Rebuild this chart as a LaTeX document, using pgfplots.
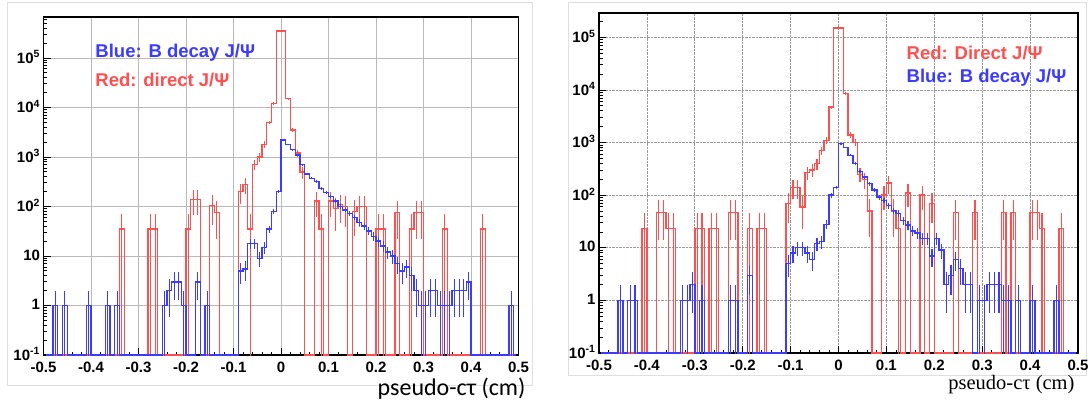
\documentclass[border=0pt]{standalone}
\usepackage{pgfplots}
\pgfplotsset{compat=1.18}
\usepackage{pgfplotstable}
\usepackage{fontspec}
\setmainfont{Liberation Sans}
\newfontfamily\carlito{Carlito}
\newfontfamily\lserif{Liberation Serif}
\definecolor{hred}{RGB}{255,80,80}
\definecolor{hblue}{RGB}{60,60,255}

\pgfplotstableread{
x y
-0.495 0.1
-0.345 0.1
-0.335 35
-0.325 0.1
-0.285 0.1
-0.275 35
-0.265 35
-0.255 0.1
-0.205 0.1
-0.195 35
-0.185 140
-0.175 140
-0.165 0.1
-0.155 0.1
-0.145 105
-0.135 75
-0.125 0.1
-0.095 0.1
-0.085 200
-0.075 280
-0.065 35
-0.055 700
-0.045 1000
-0.035 1800
-0.025 5000
-0.015 12000
-0.005 350000
0.005 350000
0.015 15000
0.025 3500
0.035 1200
0.045 500
0.055 0.1
0.065 0.1
0.075 130
0.085 35
0.095 0.1
0.105 130
0.115 90
0.125 110
0.135 100
0.145 0.1
0.155 80
0.165 100
0.175 100
0.185 0.1
0.195 0.1
0.205 35
0.215 35
0.225 0.1
0.235 0.1
0.245 75
0.255 0.1
0.265 0.1
0.275 35
0.285 75
0.295 75
0.305 0.1
0.335 0.1
0.345 35
0.355 0.1
0.415 0.1
0.425 35
0.435 0.1
0.495 0.1
}\redL

\pgfplotstableread{
x y
-0.495 0.1
-0.485 0.1
-0.475 1
-0.465 0.1
-0.455 1
-0.445 0.1
-0.415 0.1
-0.405 1
-0.395 0.1
-0.375 0.1
-0.365 1
-0.355 0.1
-0.345 1
-0.335 0.1
-0.255 0.1
-0.245 1
-0.235 2
-0.225 3
-0.215 3
-0.205 1
-0.195 0.1
-0.185 0.1
-0.175 3
-0.165 0.1
-0.155 1
-0.145 0.1
-0.095 0.1
-0.085 5
-0.075 5.5
-0.065 18
-0.055 18
-0.045 9
-0.035 15
-0.025 35
-0.015 80
-0.005 200
0.005 2200
0.015 1800
0.025 1400
0.035 1100
0.045 700
0.055 450
0.065 370
0.075 320
0.085 230
0.095 190
0.105 160
0.115 130
0.125 100
0.135 85
0.145 72
0.155 60
0.165 48
0.175 40
0.185 32
0.195 25
0.205 20
0.215 16
0.225 12
0.235 10
0.245 7
0.255 5
0.265 6
0.275 4
0.285 2
0.295 1
0.305 1
0.315 2
0.325 2
0.335 1
0.345 1
0.355 1
0.365 2
0.375 2
0.385 2
0.395 3
0.405 0.1
0.475 0.1
0.485 1
0.495 0.1
}\blueL

\pgfplotstableread{
x y
-0.495 0.1
-0.415 0.1
-0.405 23
-0.395 0.1
-0.385 0.1
-0.375 47
-0.365 47
-0.355 23
-0.345 23
-0.335 0.1
-0.305 0.1
-0.295 23
-0.285 23
-0.275 0.1
-0.265 23
-0.255 23
-0.245 0.1
-0.235 0.1
-0.225 47
-0.215 47
-0.205 0.1
-0.195 0.1
-0.185 23
-0.175 0.1
-0.165 23
-0.155 23
-0.145 0.1
-0.115 0.1
-0.105 70
-0.095 140
-0.085 140
-0.075 60
-0.065 270
-0.055 300
-0.045 400
-0.035 700
-0.025 1100
-0.015 4700
-0.005 150000
0.005 150000
0.015 8500
0.025 1400
0.035 1000
0.045 250
0.055 200
0.065 50
0.075 0.1
0.085 0.1
0.095 100
0.105 170
0.115 50
0.125 23
0.135 0.1
0.145 110
0.155 0.1
0.165 0.1
0.175 100
0.185 0.1
0.195 70
0.205 0.1
0.235 0.1
0.245 47
0.255 0.1
0.275 0.1
0.285 47
0.295 0.1
0.335 0.1
0.345 47
0.355 0.1
0.365 47
0.375 0.1
0.395 0.1
0.405 47
0.415 47
0.425 23
0.435 0.1
0.455 0.1
0.465 23
0.475 0.1
0.495 0.1
}\redR

\pgfplotstableread{
x y
-0.495 0.1
-0.465 0.1
-0.455 1
-0.445 0.1
-0.435 1
-0.425 1
-0.415 0.1
-0.335 0.1
-0.325 1
-0.315 1
-0.305 2
-0.295 0.1
-0.285 1
-0.275 0.1
-0.235 0.1
-0.225 1
-0.215 1
-0.205 0.1
-0.195 0.1
-0.185 3
-0.175 0.1
-0.115 0.1
-0.105 5
-0.095 8
-0.085 10
-0.075 10
-0.065 8
-0.055 6
-0.045 12
-0.035 13
-0.025 28
-0.015 100
-0.005 140
0.005 950
0.015 810
0.025 570
0.035 400
0.045 280
0.055 220
0.065 165
0.075 125
0.085 92
0.095 80
0.105 63
0.115 51
0.125 45
0.135 33
0.145 27
0.155 21
0.165 19
0.175 15
0.185 15
0.195 7
0.205 15
0.215 9
0.225 2
0.235 3
0.245 6
0.255 4
0.265 2
0.275 2
0.285 0.1
0.295 1
0.305 1
0.315 2
0.325 2
0.335 2
0.345 1
0.355 1
0.365 0.1
0.375 1
0.385 0.1
0.395 0.1
0.405 1
0.415 0.1
0.445 0.1
0.455 1
0.465 0.1
0.495 0.1
}\blueR

\begin{document}
\begin{tikzpicture}
\useasboundingbox (0pt,0pt) rectangle (1089pt,400pt);
\fill[white] (0pt,0pt) rectangle (1089pt,400pt);
\draw[gray!25, line width=0.8pt] (7pt,15pt) rectangle (532pt,398pt);
\draw[gray!25, line width=0.8pt] (568pt,25pt) rectangle (1086pt,398pt);

% ---------------- left panel ----------------
\begin{axis}[
  scale only axis,
  at={(43.5pt,45pt)}, anchor=south west,
  width=475pt, height=338pt,
  ymode=log, ymin=0.1, ymax=670000,
  xmin=-0.5, xmax=0.5,
  xtick={-0.5,-0.4,-0.3,-0.2,-0.1,0,0.1,0.2,0.3,0.4,0.5},
  xticklabels={-0.5,-0.4,-0.3,-0.2,-0.1,0,0.1,0.2,0.3,0.4,0.5},
  ytick={0.1,1,10,100,1000,10000,100000},
  yticklabels={10\textsuperscript{-1},1,10,10\textsuperscript{2},10\textsuperscript{3},10\textsuperscript{4},10\textsuperscript{5}},
  minor xtick={-0.48,-0.46,...,0.48},
  minor ytick={0.2,0.3,0.4,0.5,0.6,0.7,0.8,0.9,2,3,4,5,6,7,8,9,20,30,40,50,60,70,80,90,200,300,400,500,600,700,800,900,2000,3000,4000,5000,6000,7000,8000,9000,20000,30000,40000,50000,60000,70000,80000,90000,200000,300000,400000,500000,600000},
  tick align=inside,
  xtick pos=left, ytick pos=left,
  major tick length=7pt, minor tick length=3.5pt,
  tick style={black, line width=0.8pt},
  axis line style={black, line width=1.1pt},
  xmajorgrids, ymajorgrids,
  major grid style={gray!55, line width=0.6pt},
  tick label style={font=\fontsize{15}{17}\selectfont\bfseries},
  xticklabel style={yshift=-3pt},
  yticklabel style={yshift=1pt},
]
\addplot[const plot mark mid, no marks, line width=1.4pt, hred,
  error bars/.cd, y dir=both, y explicit, error mark=none,
  error bar style={line width=1.2pt}]
  table[x=x, y=y,
    y error plus expr={ifthenelse(\thisrow{y}>0.5, sqrt(37)*sqrt(\thisrow{y}), 0)},
    y error minus expr={ifthenelse(\thisrow{y}>0.5, min(sqrt(37)*sqrt(\thisrow{y}), \thisrow{y}-0.01), 0)}] {\redL};
\addplot[const plot mark mid, no marks, line width=1.4pt, hblue,
  error bars/.cd, y dir=both, y explicit, error mark=none,
  error bar style={line width=1.2pt}]
  table[x=x, y=y,
    y error plus expr={ifthenelse(\thisrow{y}>0.5, sqrt(\thisrow{y}), 0)},
    y error minus expr={ifthenelse(\thisrow{y}>0.5, min(sqrt(\thisrow{y}), \thisrow{y}-0.01), 0)}] {\blueL};
\node[anchor=west, text=hblue, font=\bfseries\fontsize{18.5}{21}\selectfont] at (rel axis cs:0.102,0.893) {Blue: B decay J/Ψ};
\node[anchor=west, text=hred, font=\bfseries\fontsize{18.5}{21}\selectfont] at (rel axis cs:0.102,0.814) {Red: direct J/Ψ};
\end{axis}
\node[anchor=east, font=\carlito\fontsize{24}{26}\selectfont] at (529pt,11pt) {pseudo-cτ (cm)};

% ---------------- right panel ----------------
\begin{axis}[
  scale only axis,
  at={(599pt,47pt)}, anchor=south west,
  width=479pt, height=340pt,
  ymode=log, ymin=0.1, ymax=290000,
  xmin=-0.5, xmax=0.5,
  xtick={-0.5,-0.4,-0.3,-0.2,-0.1,0,0.1,0.2,0.3,0.4,0.5},
  xticklabels={-0.5,-0.4,-0.3,-0.2,-0.1,0,0.1,0.2,0.3,0.4,0.5},
  ytick={0.1,1,10,100,1000,10000,100000},
  yticklabels={10\textsuperscript{-1},1,10,10\textsuperscript{2},10\textsuperscript{3},10\textsuperscript{4},10\textsuperscript{5}},
  minor xtick={-0.48,-0.46,...,0.48},
  minor ytick={0.2,0.3,0.4,0.5,0.6,0.7,0.8,0.9,2,3,4,5,6,7,8,9,20,30,40,50,60,70,80,90,200,300,400,500,600,700,800,900,2000,3000,4000,5000,6000,7000,8000,9000,20000,30000,40000,50000,60000,70000,80000,90000,200000},
  tick align=inside,
  xtick pos=left, ytick pos=left,
  major tick length=7pt, minor tick length=3.5pt,
  tick style={black, line width=0.8pt},
  axis line style={black, line width=1.1pt},
  xmajorgrids, ymajorgrids,
  major grid style={gray!80, densely dotted, line width=0.7pt},
  tick label style={font=\fontsize{15}{17}\selectfont\bfseries},
  xticklabel style={yshift=-3pt},
  yticklabel style={yshift=1pt},
]
\addplot[const plot mark mid, no marks, line width=1.4pt, hred,
  error bars/.cd, y dir=both, y explicit, error mark=none,
  error bar style={line width=1.2pt}]
  table[x=x, y=y,
    y error plus expr={ifthenelse(\thisrow{y}>0.5, sqrt(23)*sqrt(\thisrow{y}), 0)},
    y error minus expr={ifthenelse(\thisrow{y}>0.5, min(sqrt(23)*sqrt(\thisrow{y}), \thisrow{y}-0.01), 0)}] {\redR};
\addplot[const plot mark mid, no marks, line width=1.4pt, hblue,
  error bars/.cd, y dir=both, y explicit, error mark=none,
  error bar style={line width=1.2pt}]
  table[x=x, y=y,
    y error plus expr={ifthenelse(\thisrow{y}>0.5, sqrt(\thisrow{y}), 0)},
    y error minus expr={ifthenelse(\thisrow{y}>0.5, min(sqrt(\thisrow{y}), \thisrow{y}-0.01), 0)}] {\blueR};
\node[anchor=west, text=hred, font=\bfseries\fontsize{18.5}{21}\selectfont] at (rel axis cs:0.635,0.882) {Red: Direct J/Ψ};
\node[anchor=west, text=hblue, font=\bfseries\fontsize{18.5}{21}\selectfont] at (rel axis cs:0.635,0.809) {Blue: B decay J/Ψ};
\end{axis}
\node[anchor=east, font=\lserif\fontsize{20.5}{22}\selectfont] at (1078pt,15pt) {pseudo-cτ (cm)};
\end{tikzpicture}
\end{document}
